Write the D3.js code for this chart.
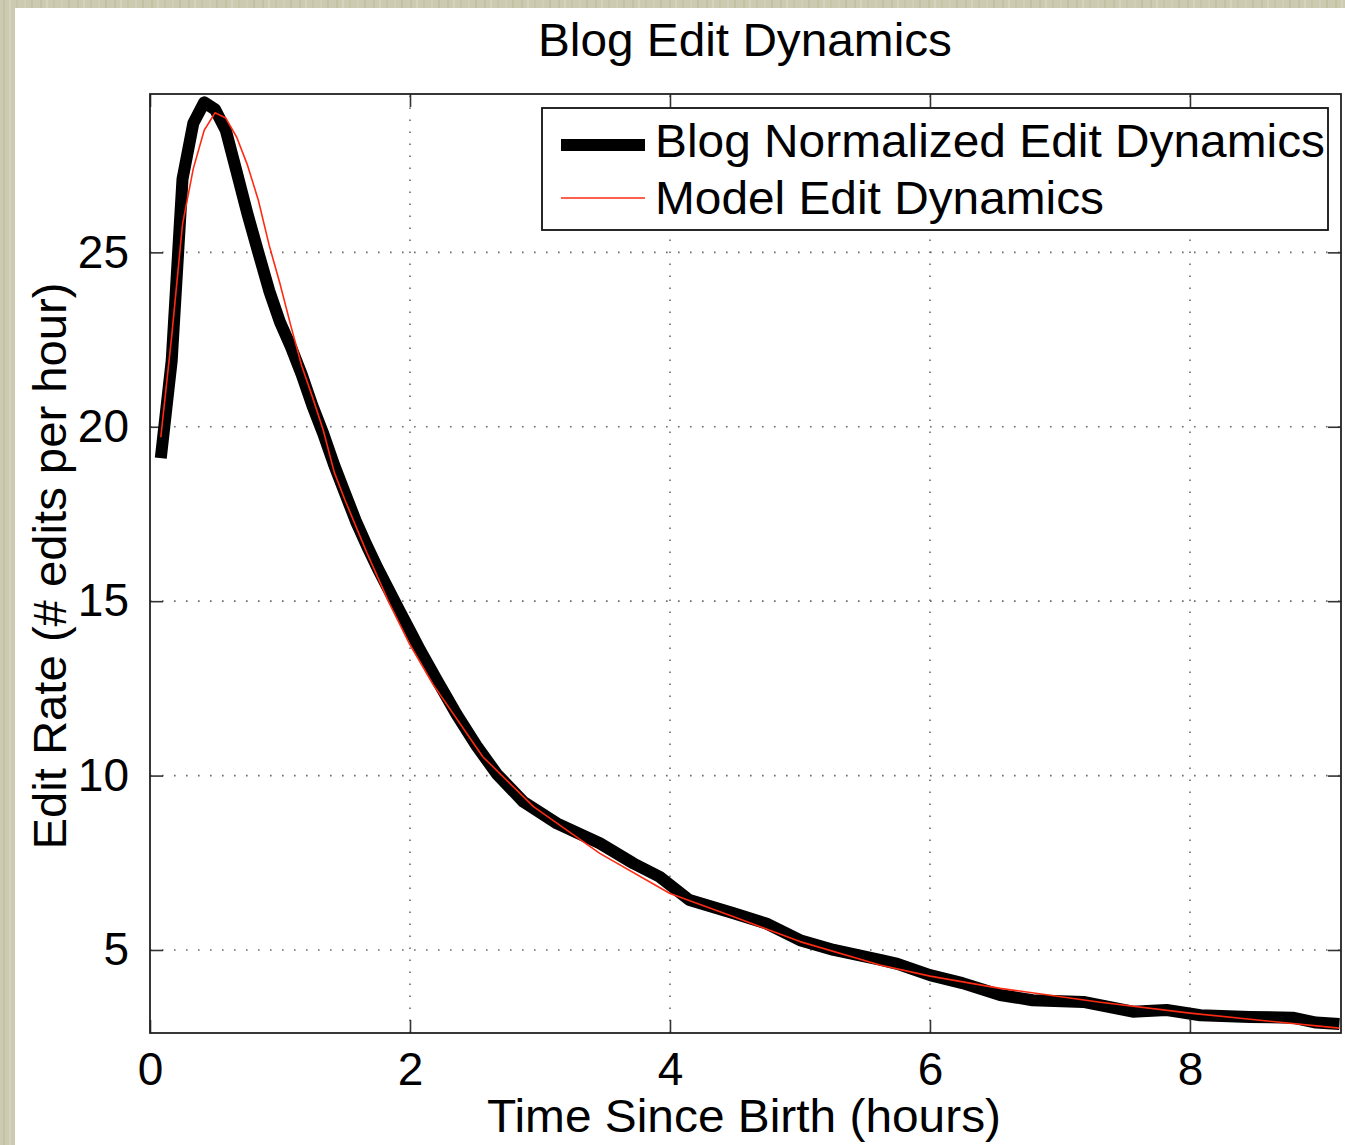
<!DOCTYPE html>
<html>
<head>
<meta charset="utf-8">
<script src="https://cdn.jsdelivr.net/npm/d3@7"></script>
<style>
  html, body { margin: 0; padding: 0; background: #cccbb1; }
  svg { display: block; }
  text { font-family: "Liberation Sans", Arial, Helvetica, sans-serif; fill: #000; }
</style>
</head>
<body>
<div id="main"></div>
<script>
'use strict';

// blog data (hours since birth, edits per hour)
var blogX = [0.083, 0.167, 0.25, 0.333, 0.417, 0.5, 0.583, 0.667, 0.75, 0.833, 0.917, 1.0,
  1.083, 1.167, 1.25, 1.333, 1.417, 1.5, 1.583, 1.667, 1.75, 1.833, 1.923, 2.0, 2.077, 2.205,
  2.359, 2.513, 2.667, 2.872, 3.13, 3.46, 3.72, 3.92, 4.15, 4.49, 4.74, 5.0, 5.26, 5.615,
  5.75, 6.0, 6.25, 6.54, 6.79, 7.18, 7.56, 7.82, 8.08, 8.46, 8.79, 8.97, 9.15];
var blogY = [19.1, 21.9, 27.1, 28.7, 29.3, 29.1, 28.5, 27.3, 26.1, 25.0, 23.9, 23.0,
  22.3, 21.5, 20.6, 19.8, 18.9, 18.1, 17.3, 16.6, 15.95, 15.35, 14.7, 14.15, 13.6, 12.75,
  11.75, 10.85, 10.05, 9.25, 8.63, 8.06, 7.48, 7.10, 6.43, 6.05, 5.76, 5.28, 5.0, 4.72,
  4.6, 4.28, 4.05, 3.71, 3.56, 3.51, 3.23, 3.28, 3.13, 3.08, 3.06, 2.92, 2.88];

// model curve
var modelX = [0.083, 0.167, 0.25, 0.333, 0.417, 0.5, 0.583, 0.667, 0.75, 0.833, 0.917, 1.0,
  1.083, 1.167, 1.25, 1.333, 1.417, 1.5, 1.667, 1.833, 2.0, 2.18, 2.56, 2.95, 3.46, 4.0,
  4.49, 5.0, 5.615, 6.0, 6.54, 7.31, 8.0, 8.5, 9.15];
var modelY = [19.7, 22.6, 25.8, 27.4, 28.5, 29.0, 28.85, 28.3, 27.5, 26.5, 25.2, 24.1,
  22.9, 21.75, 20.85, 19.9, 18.7, 17.9, 16.4, 15.0, 13.75, 12.6, 10.54, 9.11, 7.77, 6.62,
  5.95, 5.24, 4.57, 4.25, 3.9, 3.5, 3.19, 3.0, 2.76];

var xTicks = [0, 2, 4, 6, 8];
var yTicks = [5, 10, 15, 20, 25];
var seriesNames = ['Blog Normalized Edit Dynamics', 'Model Edit Dynamics'];

var width = 1345, height = 1145;
var box = { left: 150, top: 94, right: 1341, bottom: 1033 };
var FONT = 47;

var svg = d3.select('#main').append('svg')
  .attr('width', width).attr('height', height);

// textured backdrop
var defs = svg.append('defs');
var pat = defs.append('pattern').attr('id', 'paper')
  .attr('patternUnits', 'userSpaceOnUse').attr('width', 37).attr('height', 23);
pat.append('rect').attr('width', 37).attr('height', 23).attr('fill', '#cccbb1');
[[3, '#c3c2a5'], [9, '#d4d3bb'], [16, '#c6c5a9'], [24, '#d1d0b7'], [31, '#c2c1a4']].forEach(function (s) {
  pat.append('rect').attr('x', s[0]).attr('y', 0).attr('width', 2).attr('height', 23).attr('fill', s[1]);
});
svg.append('rect').attr('width', width).attr('height', height).attr('fill', 'url(#paper)');
svg.append('rect').attr('x', 15).attr('y', 8).attr('width', width - 15).attr('height', height - 8)
  .attr('fill', '#fff');

var x = d3.scaleLinear().domain([0, 9.162]).range([box.left, box.right]);
var y = d3.scaleLinear().domain([2.62, 29.54]).range([box.bottom, box.top]);

var plotW = box.right - box.left, plotH = box.bottom - box.top;

// grid
var grid = svg.append('g').attr('class', 'grid');
grid.selectAll('.vg').data(xTicks.filter(function (d) { return d > 0; })).enter()
  .append('line')
  .attr('x1', function (d) { return x(d); }).attr('x2', function (d) { return x(d); })
  .attr('y1', box.bottom).attr('y2', box.top)
  .attr('stroke', '#6a6a6a').attr('stroke-width', 1.6).attr('stroke-dasharray', '1.6,10.4');
grid.selectAll('.hg').data(yTicks).enter()
  .append('line')
  .attr('y1', function (d) { return y(d); }).attr('y2', function (d) { return y(d); })
  .attr('x1', box.left).attr('x2', box.right)
  .attr('stroke', '#6a6a6a').attr('stroke-width', 1.6).attr('stroke-dasharray', '1.6,10.4');

// axes with inward ticks on all four sides
function styleAxis(g) {
  g.select('.domain').remove();
  g.selectAll('.tick line').attr('stroke', '#333').attr('stroke-width', 1.6);
  g.selectAll('.tick text').attr('font-size', 46).attr('font-family', null).attr('fill', '#000');
}
svg.append('g').attr('transform', 'translate(0,' + box.bottom + ')')
  .call(d3.axisBottom(x).tickValues(xTicks).tickFormat(d3.format('d')).tickSizeInner(-13).tickPadding(19))
  .call(styleAxis);
svg.append('g').attr('transform', 'translate(0,' + box.top + ')')
  .call(d3.axisTop(x).tickValues(xTicks).tickFormat('').tickSizeInner(-13))
  .call(styleAxis);
svg.append('g').attr('transform', 'translate(' + box.left + ',0)')
  .call(d3.axisLeft(y).tickValues(yTicks).tickFormat(d3.format('d')).tickSizeInner(-13).tickPadding(21))
  .call(styleAxis);
svg.append('g').attr('transform', 'translate(' + box.right + ',0)')
  .call(d3.axisRight(y).tickValues(yTicks).tickFormat('').tickSizeInner(-13))
  .call(styleAxis);

// series
var clip = defs.append('clipPath').attr('id', 'plotclip');
clip.append('rect').attr('x', box.left).attr('y', box.top - 20).attr('width', plotW).attr('height', plotH + 20);

var line = d3.line()
  .x(function (d) { return x(d[0]); })
  .y(function (d) { return y(d[1]); });

var plot = svg.append('g').attr('clip-path', 'url(#plotclip)');
plot.append('path')
  .datum(d3.zip(blogX, blogY))
  .attr('d', line)
  .attr('fill', 'none').attr('stroke', '#000').attr('stroke-width', 12)
  .attr('stroke-linejoin', 'round');
plot.append('path')
  .datum(d3.zip(modelX, modelY))
  .attr('d', line)
  .attr('fill', 'none').attr('stroke', '#ff2a12').attr('stroke-width', 1.6)
  .attr('stroke-linejoin', 'round');

// box
svg.append('rect')
  .attr('x', box.left).attr('y', box.top).attr('width', plotW).attr('height', plotH)
  .attr('fill', 'none').attr('stroke', '#222').attr('stroke-width', 1.8);

// legend
var legend = svg.append('g').attr('transform', 'translate(542,108)');
legend.append('rect').attr('width', 786).attr('height', 122)
  .attr('fill', '#fff').attr('stroke', '#111').attr('stroke-width', 1.8);
var legStyles = [{ c: '#000', w: 12, ly: 37, ty: 49, len: 670 }, { c: '#ff2a12', w: 1.6, ly: 90, ty: 106, len: 449 }];
legend.selectAll('.item').data(seriesNames).enter().append('g')
  .each(function (name, i) {
    var st = legStyles[i];
    var g = d3.select(this);
    g.append('line').attr('x1', 19).attr('x2', 103).attr('y1', st.ly).attr('y2', st.ly)
      .attr('stroke', st.c).attr('stroke-width', st.w);
    g.append('text').attr('x', 113).attr('y', st.ty).attr('font-size', FONT)
      .attr('textLength', st.len).attr('lengthAdjust', 'spacingAndGlyphs').text(name);
  });

// title and axis labels
svg.append('text').attr('x', 745).attr('y', 56).attr('text-anchor', 'middle')
  .attr('font-size', FONT).attr('textLength', 414).attr('lengthAdjust', 'spacingAndGlyphs')
  .text('Blog Edit Dynamics');
svg.append('text').attr('x', 744).attr('y', 1132).attr('text-anchor', 'middle')
  .attr('font-size', FONT).attr('textLength', 514).attr('lengthAdjust', 'spacingAndGlyphs')
  .text('Time Since Birth (hours)');
svg.append('text')
  .attr('transform', 'translate(66,566) rotate(-90)')
  .attr('text-anchor', 'middle')
  .attr('font-size', FONT).attr('textLength', 567).attr('lengthAdjust', 'spacingAndGlyphs')
  .text('Edit Rate (# edits per hour)');
</script>
</body>
</html>
